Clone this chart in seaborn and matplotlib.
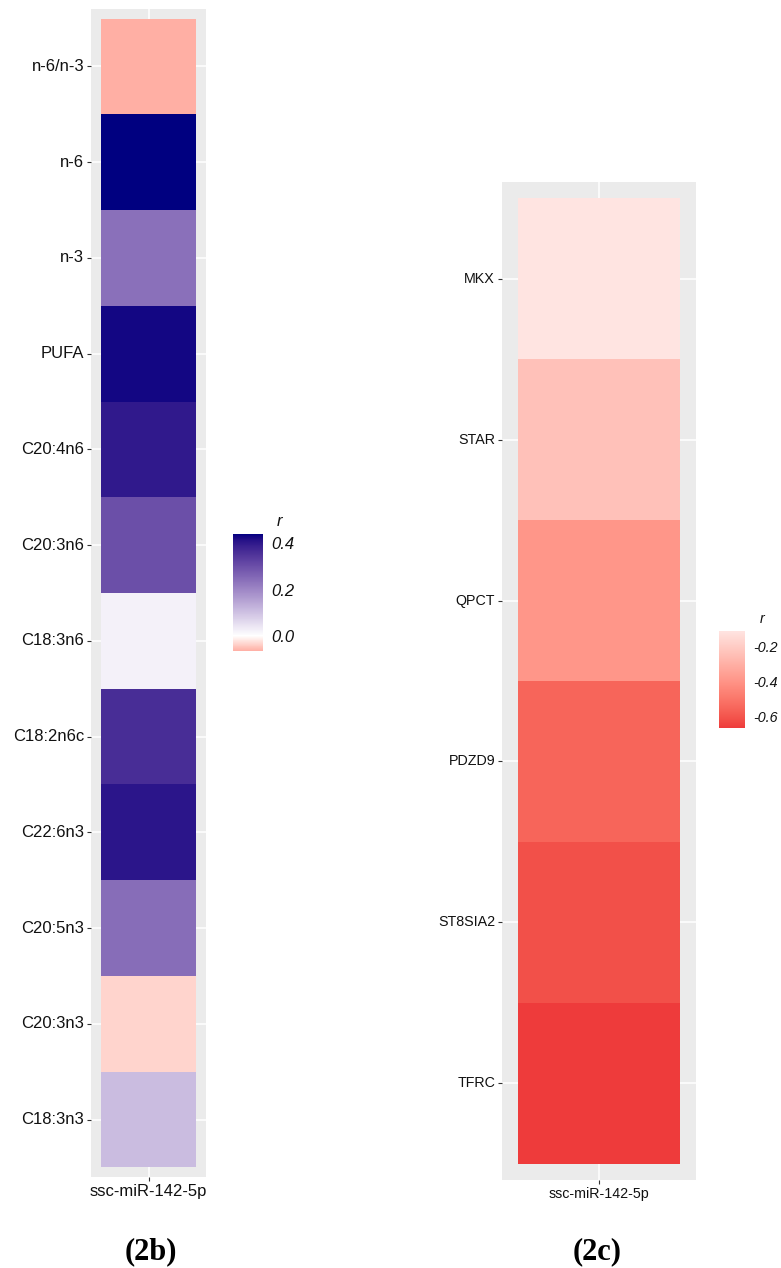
import numpy as np
import pandas as pd
import matplotlib
matplotlib.use('Agg')
import matplotlib.pyplot as plt
from matplotlib.colors import ListedColormap, to_rgb
import seaborn as sns

sns.set_theme(style='white')
plt.rcParams['font.family'] = ['Liberation Sans', 'DejaVu Sans']

# ------------------------------------------------------------
# data (correlation r with ssc-miR-142-5p)
# ------------------------------------------------------------
mirna = 'ssc-miR-142-5p'

fa_labels = ['n-6/n-3', 'n-6', 'n-3', 'PUFA', 'C20:4n6', 'C20:3n6', 'C18:3n6',
             'C18:2n6c', 'C22:6n3', 'C20:5n3', 'C20:3n3', 'C18:3n3']
fa_r = [-0.065, 0.44, 0.24, 0.43, 0.40, 0.30, 0.022,
        0.365, 0.405, 0.245, -0.035, 0.11]

gene_labels = ['MKX', 'STAR', 'QPCT', 'PDZD9', 'ST8SIA2', 'TFRC']
gene_r = [-0.109, -0.235, -0.39, -0.55, -0.61, -0.663]

fa_ticks = [0.0, 0.2, 0.4]
gene_ticks = [-0.6, -0.4, -0.2]


# ------------------------------------------------------------
# ggplot-like gradients (interpolated in Lab space)
# ------------------------------------------------------------
WHITE_PT = np.array([0.95047, 1.0, 1.08883])
M = np.array([[0.4124, 0.3576, 0.1805],
              [0.2126, 0.7152, 0.0722],
              [0.0193, 0.1192, 0.9505]])


def to_lab(rgb):
    c = np.asarray(rgb, dtype=float)
    lin = np.where(c <= 0.04045, c / 12.92, ((c + 0.055) / 1.055) ** 2.4)
    xyz = (M @ lin) / WHITE_PT
    f = np.where(xyz > 0.008856, np.cbrt(xyz), 7.787 * xyz + 16 / 116)
    return np.array([116 * f[1] - 16, 500 * (f[0] - f[1]), 200 * (f[1] - f[2])])


def from_lab(lab):
    fy = (lab[:, 0] + 16) / 116
    fx = fy + lab[:, 1] / 500
    fz = fy - lab[:, 2] / 200
    f = np.column_stack([fx, fy, fz])
    xyz = np.where(f > 0.206893, f ** 3, (f - 16 / 116) / 7.787) * WHITE_PT
    lin = np.clip(xyz @ np.linalg.inv(M).T, 0, 1)
    rgb = np.where(lin <= 0.0031308, 12.92 * lin, 1.055 * lin ** (1 / 2.4) - 0.055)
    return np.clip(rgb, 0, 1)


def lab_ramp(stops, n=256):
    pos = np.array([p for p, _ in stops])
    labs = np.array([to_lab(to_rgb(c)) for _, c in stops])
    t = np.linspace(0, 1, n)
    lab = np.column_stack([np.interp(t, pos, labs[:, i]) for i in range(3)])
    return ListedColormap(from_lab(lab))


fa_min, fa_max = min(fa_r), max(fa_r)
mid = (0 - fa_min) / (fa_max - fa_min)
fa_cmap = lab_ramp([(0, '#FFAFA4'), (mid, '#FFFFFF'), (1, '#000080')])
gene_cmap = lab_ramp([(0, '#EE3B3B'), (1, '#FFE4E1')])

# ------------------------------------------------------------
# figure
# ------------------------------------------------------------
W, H = 781, 1268
fig = plt.figure(figsize=(W / 100, H / 100), dpi=100)


def box(x0, y0, x1, y1):
    return [x0 / W, 1 - y1 / H, (x1 - x0) / W, (y1 - y0) / H]


def panel(ax, cax, labels, values, cmap, vmin, vmax, ticks, fs):
    df = pd.DataFrame({mirna: values}, index=labels)
    ax.set_facecolor('#EBEBEB')
    sns.heatmap(df, ax=ax, cbar_ax=cax, cmap=cmap, vmin=vmin, vmax=vmax,
                linewidths=0, cbar_kws={'ticks': ticks})
    n = len(labels)
    ax.set_xlim(-0.1, 1.1)
    ax.set_ylim(n + 0.1, -0.1)
    ax.set_axisbelow(True)
    ax.grid(True, color='white', linewidth=1.1)
    ax.tick_params(axis='both', length=3, width=0.8, color='#333333',
                   labelsize=fs, labelcolor='#111111', pad=2, bottom=True, left=True)
    ax.set_yticklabels(labels, rotation=0)
    ax.set_xticklabels([mirna], rotation=0)
    ax.set_xlabel('')
    ax.set_ylabel('')
    for s in ax.spines.values():
        s.set_visible(False)

    cb = ax.collections[0].colorbar
    cb.outline.set_visible(False)
    cax.yaxis.set_ticks_position('both')
    cax.tick_params(axis='y', direction='in', color='white', length=5, width=0.8,
                    labelsize=fs, labelcolor='#111111', labelright=True,
                    labelleft=False, pad=6)
    cax.set_yticklabels([f'{t:.1f}' for t in ticks], fontstyle='italic')
    cax.set_title('r', fontstyle='italic', fontsize=fs, color='#111111',
                  loc='center', pad=6)
    return cb


ax_b = fig.add_axes(box(91, 9, 206, 1177))
cax_b = fig.add_axes(box(233, 534, 263, 651))
panel(ax_b, cax_b, fa_labels, fa_r, fa_cmap, fa_min, fa_max, fa_ticks, 12)
cax_b.title.set_position((1.55, 1.0))

ax_c = fig.add_axes(box(502, 182, 696, 1180))
cax_c = fig.add_axes(box(719, 631, 745, 728))
panel(ax_c, cax_c, gene_labels, gene_r, gene_cmap, min(gene_r), max(gene_r),
      gene_ticks, 10.3)
cax_c.title.set_position((1.65, 1.0))

for x, s in [(151, '(2b)'), (597, '(2c)')]:
    fig.text(x / W, 1 - 1252 / H, s, ha='center', va='center', color='black',
             fontsize=22, fontweight='bold', family=['Liberation Serif', 'DejaVu Serif'])

fig.savefig('out.png', dpi=100)
